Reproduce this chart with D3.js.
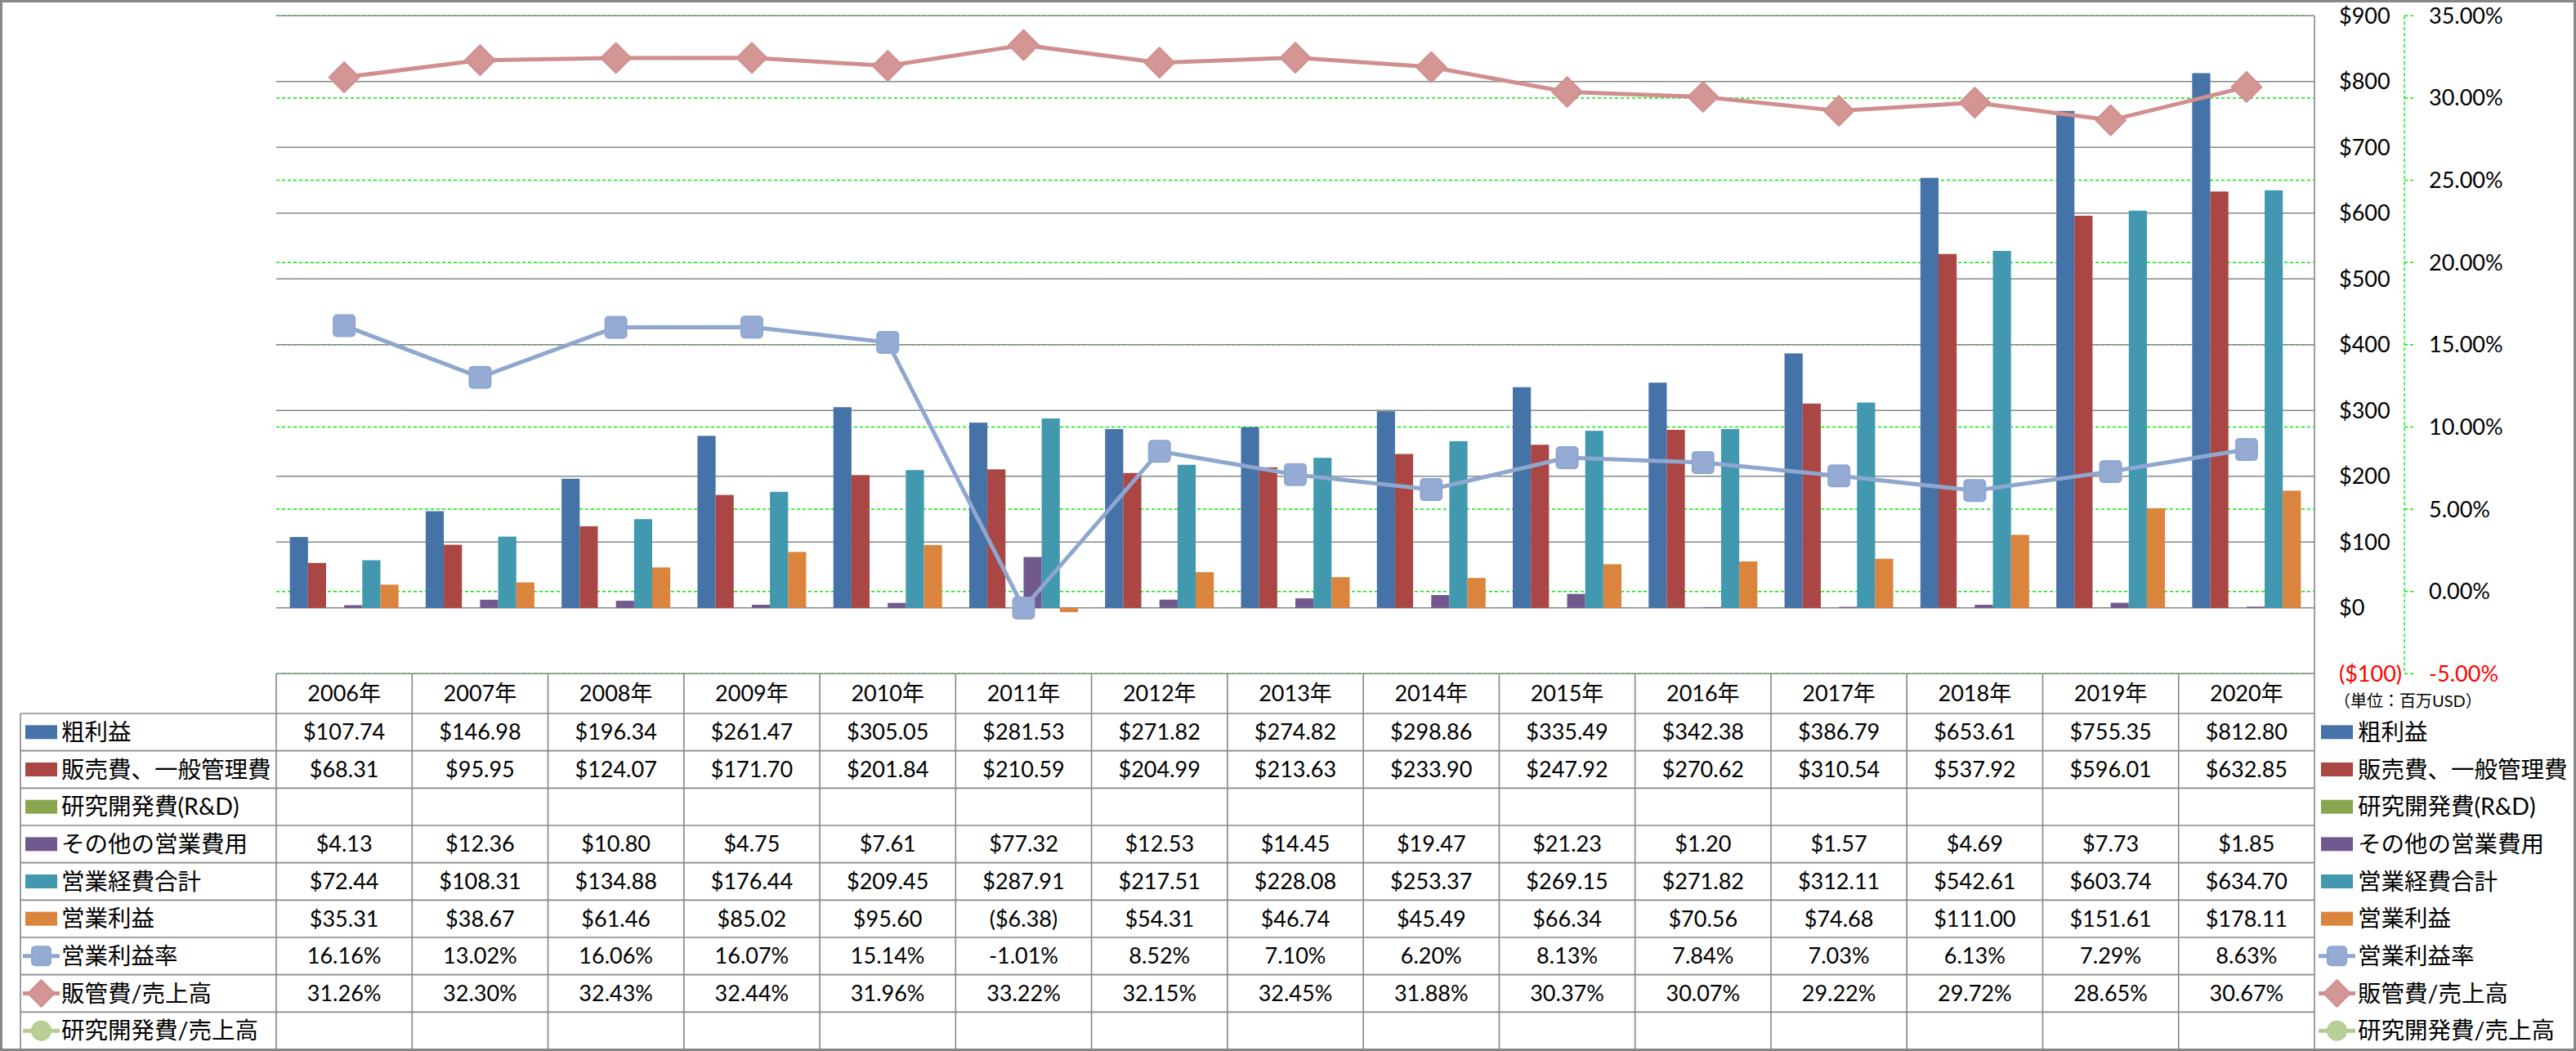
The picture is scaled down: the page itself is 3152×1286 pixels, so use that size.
<!DOCTYPE html>
<html><head><meta charset="utf-8">
<script src="https://cdn.jsdelivr.net/npm/d3@7"></script>
<style>
body{margin:0;background:#fff}
text{font-family:Lato,'Noto Sans CJK JP',sans-serif;fill:#000}
</style></head>
<body><svg id="c" width="3152" height="1286"></svg>
<script>
// ---- data ----
const years = ["2006年","2007年","2008年","2009年","2010年","2011年","2012年","2013年","2014年","2015年","2016年","2017年","2018年","2019年","2020年"];
const grossProfit = [107.74,146.98,196.34,261.47,305.05,281.53,271.82,274.82,298.86,335.49,342.38,386.79,653.61,755.35,812.80];
const sga = [68.31,95.95,124.07,171.70,201.84,210.59,204.99,213.63,233.90,247.92,270.62,310.54,537.92,596.01,632.85];
const rnd = [null,null,null,null,null,null,null,null,null,null,null,null,null,null,null];
const otherOpex = [4.13,12.36,10.80,4.75,7.61,77.32,12.53,14.45,19.47,21.23,1.20,1.57,4.69,7.73,1.85];
const totalOpex = [72.44,108.31,134.88,176.44,209.45,287.91,217.51,228.08,253.37,269.15,271.82,312.11,542.61,603.74,634.70];
const opIncome = [35.31,38.67,61.46,85.02,95.60,-6.38,54.31,46.74,45.49,66.34,70.56,74.68,111.00,151.61,178.11];
const opMargin = [16.16,13.02,16.06,16.07,15.14,-1.01,8.52,7.10,6.20,8.13,7.84,7.03,6.13,7.29,8.63];
const sgaRatio = [31.26,32.30,32.43,32.44,31.96,33.22,32.15,32.45,31.88,30.37,30.07,29.22,29.72,28.65,30.67];
const rndRatio = [null,null,null,null,null,null,null,null,null,null,null,null,null,null,null];

const seriesNames = ["粗利益","販売費、一般管理費","研究開発費(R&D)","その他の営業費用","営業経費合計","営業利益","営業利益率","販管費/売上高","研究開発費/売上高"];
const seriesValues = [grossProfit,sga,rnd,otherOpex,totalOpex,opIncome,opMargin,sgaRatio,rndRatio];
const seriesKinds = ["bar","bar","bar","bar","bar","bar","line","line","line"];
const seriesColors = ["#4572A7","#AA4643","#89A54E","#71588F","#4198AF","#DB843D","#8FA7CF","#D08F8E","#B5CC92"];
const seriesMarkers = [null,null,null,null,null,null,"square","diamond","circle"];

const leftTicks = [-100,0,100,200,300,400,500,600,700,800,900];
const rightTicks = [-5,0,5,10,15,20,25,30,35];
const unitLabel = "（単位：百万USD）";

// ---- layout ----
const svg = d3.select("#c");
const W = 3152, H = 1286;
const px0 = 338, px1 = 2832, pyTop = 19.3, pyBot = 824.3;
const headerBottom = 873, tableBottom = 1284;
const tableLeft = 25;

const x = d3.scaleBand().domain(years).range([px0, px1]).paddingInner(0).paddingOuter(0);
const barIdx = seriesKinds.map((k,i)=>k==="bar"?i:-1).filter(i=>i>=0);
const xs = d3.scaleBand().domain(barIdx).range([0, x.bandwidth()]).paddingInner(0).paddingOuter(0.75);
const y1 = d3.scaleLinear().domain([-100, 900]).range([pyBot, pyTop]);
const y2 = d3.scaleLinear().domain([-5, 35]).range([pyBot, pyTop]);
const rowY = d3.scaleBand().domain(seriesNames).range([headerBottom, tableBottom]);

const f2 = v => d3.format(".2f")(v).replace("\u2212","-");

// outer border
svg.append("rect").attr("x",1.5).attr("y",1.5).attr("width",W-3).attr("height",H-3)
  .attr("fill","#fff").attr("stroke","#878787").attr("stroke-width",3);

// secondary gridlines (green dashed)
svg.append("g").selectAll("line").data(rightTicks).join("line")
  .attr("x1",px0).attr("x2",px1).attr("y1",d=>y2(d)).attr("y2",d=>y2(d))
  .attr("stroke","#00ee00").attr("stroke-width",1.4).attr("stroke-dasharray","4,3");
// primary gridlines (grey)
svg.append("g").selectAll("line").data(leftTicks.filter(d=>d>=0)).join("line")
  .attr("x1",px0).attr("x2",px1).attr("y1",d=>y1(d)).attr("y2",d=>y1(d))
  .attr("stroke","#878787").attr("stroke-width",1.4);

// bars
const gb = svg.append("g");
barIdx.forEach(si=>{
  const vals = seriesValues[si];
  gb.append("g").selectAll("rect").data(years.map((yr,i)=>({yr,v:vals[i]})).filter(d=>d.v!=null)).join("rect")
    .attr("x",d=>x(d.yr)+xs(si)).attr("width",xs.bandwidth())
    .attr("y",d=>Math.min(y1(d.v),y1(0))).attr("height",d=>Math.abs(y1(d.v)-y1(0)))
    .attr("fill",seriesColors[si]);
});

// lines
function drawMarker(g, type, cx, cy, size, color){
  if(type==="square"){
    g.append("rect").attr("x",cx-size/2).attr("y",cy-size/2).attr("width",size).attr("height",size)
      .attr("rx",4).attr("fill","#95ABD3").attr("stroke",color).attr("stroke-width",2);
  } else if(type==="diamond"){
    g.append("path").attr("d",d3.symbol(d3.symbolSquare, size*size)()).attr("transform",`translate(${cx},${cy}) rotate(45)`)
      .attr("fill","#D39695").attr("stroke",color).attr("stroke-width",2).attr("stroke-linejoin","round");
  } else {
    g.append("path").attr("d",d3.symbol(d3.symbolCircle, Math.PI*size*size/4)()).attr("transform",`translate(${cx},${cy})`)
      .attr("fill","#BACF98").attr("stroke",color).attr("stroke-width",2);
  }
}
const gl = svg.append("g");
seriesKinds.forEach((k,si)=>{
  if(k!=="line") return;
  const pts = years.map((yr,i)=>({yr,v:seriesValues[si][i]})).filter(d=>d.v!=null);
  if(!pts.length) return;
  const line = d3.line().x(d=>x(d.yr)+x.bandwidth()/2).y(d=>y2(d.v));
  gl.append("path").attr("d",line(pts)).attr("fill","none").attr("stroke",seriesColors[si])
    .attr("stroke-width",5).attr("stroke-linejoin","round");
  pts.forEach(d=>drawMarker(gl, seriesMarkers[si], x(d.yr)+x.bandwidth()/2, y2(d.v), 26, seriesColors[si]));
});

// primary axis line (right edge of plot) + table frame
const frame = svg.append("g").attr("stroke","#878787").attr("stroke-width",1.6);
frame.append("line").attr("x1",px1).attr("x2",px1).attr("y1",pyTop).attr("y2",tableBottom);
frame.append("line").attr("x1",px0).attr("x2",px1).attr("y1",pyBot).attr("y2",pyBot);
frame.append("line").attr("x1",tableLeft).attr("x2",px1).attr("y1",headerBottom).attr("y2",headerBottom);
frame.selectAll(".rl").data(seriesNames.slice(1)).join("line")
  .attr("x1",tableLeft).attr("x2",px1).attr("y1",d=>rowY(d)).attr("y2",d=>rowY(d));
frame.selectAll(".vl").data(years).join("line")
  .attr("x1",d=>x(d)).attr("x2",d=>x(d)).attr("y1",pyBot).attr("y2",tableBottom);
frame.append("line").attr("x1",tableLeft).attr("x2",tableLeft).attr("y1",headerBottom).attr("y2",tableBottom);

// left axis labels (drawn on right side)
svg.append("g").selectAll("text").data(leftTicks).join("text")
  .attr("x",2862).attr("y",d=>y1(d)).attr("dy","0.35em")
  .attr("font-size",27)
  .style("fill",d=>d<0?"#ff0000":"#000")
  .text(d=>d<0?`($${Math.abs(d)})`:`$${d}`);

// secondary axis line + ticks
const ga = svg.append("g").attr("stroke","#00ee00").attr("stroke-width",1.4).attr("stroke-dasharray","4,3");
ga.append("line").attr("x1",2942).attr("x2",2942).attr("y1",pyTop).attr("y2",pyBot);
ga.selectAll(".t").data(rightTicks).join("line").attr("x1",2942).attr("x2",2953)
  .attr("y1",d=>y2(d)).attr("y2",d=>y2(d));
svg.append("g").selectAll("text").data(rightTicks).join("text")
  .attr("x",2972).attr("y",d=>y2(d)).attr("dy","0.35em")
  .attr("font-size",27)
  .style("fill",d=>d<0?"#ff0000":"#000")
  .text(d=>f2(d)+"%");

// unit label
svg.append("text").attr("x",2856).attr("y",858).attr("dy","0.35em").attr("font-size",20).text(unitLabel);

// table header
svg.append("g").selectAll("text").data(years).join("text")
  .attr("x",d=>x(d)+x.bandwidth()/2).attr("y",(pyBot+headerBottom)/2).attr("dy","0.35em")
  .attr("text-anchor","middle").attr("font-size",27).text(d=>d);

// table cells
const fmtMoney = v => v<0 ? `($${f2(-v)})` : `$${f2(v)}`;
const fmtPct = v => f2(v)+"%";
const gt = svg.append("g");
seriesNames.forEach((name,si)=>{
  const cy = rowY(name)+rowY.bandwidth()/2;
  gt.append("g").selectAll("text").data(years.map((yr,i)=>({yr,v:seriesValues[si][i]})).filter(d=>d.v!=null)).join("text")
    .attr("x",d=>x(d.yr)+x.bandwidth()/2).attr("y",cy).attr("dy","0.35em")
    .attr("text-anchor","middle").attr("font-size",27)
    .text(d=>seriesKinds[si]==="bar"?fmtMoney(d.v):fmtPct(d.v));
});

// legend keys (table left + right legend)
function legendKey(g, si, kx, cy, keyW){
  if(seriesKinds[si]==="bar"){
    g.append("rect").attr("x",kx).attr("y",cy-8.5).attr("width",keyW).attr("height",17).attr("fill",seriesColors[si]);
  } else {
    g.append("line").attr("x1",kx-3).attr("x2",kx+keyW+3).attr("y1",cy).attr("y2",cy)
      .attr("stroke",seriesColors[si]).attr("stroke-width",5);
    drawMarker(g, seriesMarkers[si], kx+keyW/2, cy, 23, seriesColors[si]);
  }
}
const gk = svg.append("g");
seriesNames.forEach((name,si)=>{
  const cy = rowY(name)+rowY.bandwidth()/2;
  legendKey(gk, si, 31, cy, 39);
  gk.append("text").attr("x",75).attr("y",cy).attr("dy","0.36em").attr("font-size",28.5).text(name);
  legendKey(gk, si, 2840, cy, 39);
  gk.append("text").attr("x",2885).attr("y",cy).attr("dy","0.36em").attr("font-size",28.5).text(name);
});
</script></body></html>
